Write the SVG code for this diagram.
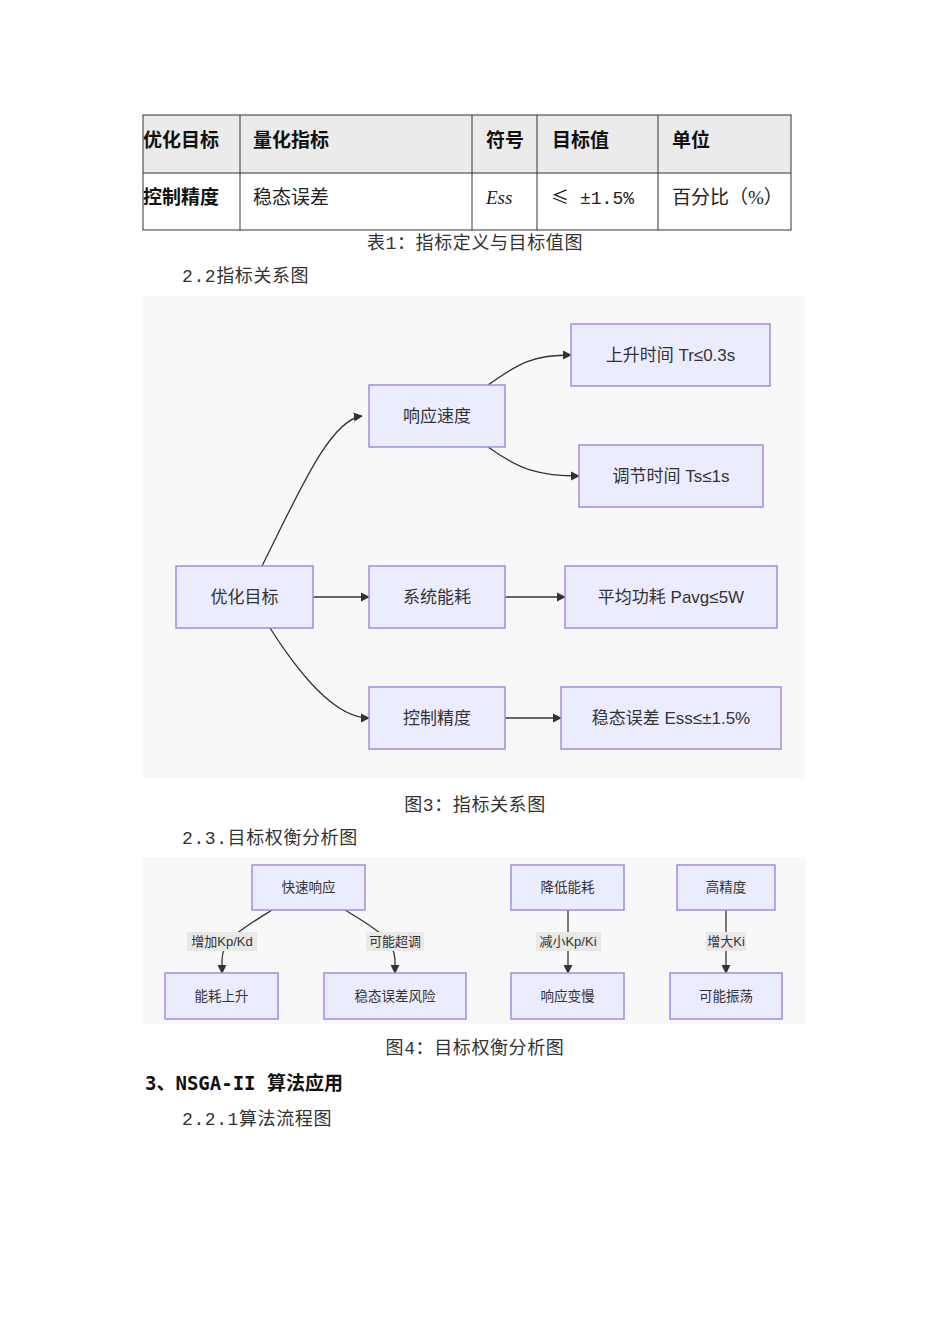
<svg xmlns="http://www.w3.org/2000/svg" width="950" height="1344" viewBox="0 0 950 1344">
<style>
.cap{font-family:"Liberation Mono","Noto Sans CJK SC",monospace;font-size:18px;fill:#333;letter-spacing:0.6px}
.th{font-family:"Liberation Sans","Noto Sans CJK SC",sans-serif;font-size:19px;font-weight:bold;fill:#111}
.td{font-family:"Liberation Serif","Noto Sans CJK SC",serif;font-size:19px;fill:#222}
.mono{font-family:"Liberation Mono","Noto Sans CJK SC",monospace;font-size:18px;fill:#222}
.cjk{font-family:"Noto Sans CJK SC",sans-serif;font-size:18px}
.n rect{fill:#ECECFF;stroke:#a58ae0;stroke-width:1.5}
.n text{font-family:"Liberation Sans","Noto Sans CJK SC",sans-serif;fill:#333;text-anchor:middle;dominant-baseline:central}
.big text{font-size:17px}
.sm text{font-size:13.5px}
.e path{fill:none;stroke:#333;stroke-width:1.3}
.lbl rect{fill:#e8e8e8}
.lbl text{font-family:"Liberation Sans","Noto Sans CJK SC",sans-serif;font-size:13px;fill:#333;text-anchor:middle;dominant-baseline:central}
</style>
<defs>
<marker id="ar" viewBox="0 0 10 10" refX="9" refY="5" markerWidth="7" markerHeight="7" orient="auto"><path d="M0,0 L10,5 L0,10 z" fill="#333"/></marker>
</defs>
<rect width="950" height="1344" fill="#fff"/>
<!-- Table -->
<g id="table">
<rect x="143" y="115" width="648" height="58" fill="#ebebeb"/>
<rect x="143" y="173" width="648" height="57" fill="#fff"/>
<g stroke="#333" stroke-width="1" fill="none">
<rect x="143" y="115" width="648" height="115"/>
<line x1="143" y1="173" x2="791" y2="173"/>
<line x1="240" y1="115" x2="240" y2="230"/>
<line x1="472" y1="115" x2="472" y2="230"/>
<line x1="537" y1="115" x2="537" y2="230"/>
<line x1="658" y1="115" x2="658" y2="230"/>
</g>
<text class="th" x="143" y="147">优化目标</text>
<text class="th" x="253" y="147">量化指标</text>
<text class="th" x="486" y="147">符号</text>
<text class="th" x="552" y="147">目标值</text>
<text class="th" x="672" y="147">单位</text>
<text class="th" x="143" y="204">控制精度</text>
<text class="td" x="253" y="204">稳态误差</text>
<text class="td" x="486" y="204" font-style="italic">Ess</text>
<text class="mono" x="551" y="204"><tspan class="cjk">≤</tspan><tspan x="580">±1.5%</tspan></text>
<text class="td" x="672" y="204">百分比（%）</text>
</g>
<text class="cap" x="475" y="249" text-anchor="middle">表1：指标定义与目标值图</text>
<text class="cap" x="182" y="282">2.2指标关系图</text>

<!-- Diagram 1 -->
<rect x="143" y="296" width="662" height="483" fill="#f8f8f8"/>
<g id="edges1" class="e">
<path d="M262,566 C300,490 330,420 362,416" marker-end="url(#ar)"/>
<path d="M488,385 C520,362 535,355 571,355" marker-end="url(#ar)"/>
<path d="M488,447 C520,470 540,476 579,476" marker-end="url(#ar)"/>
<path d="M313,597 L369,597" marker-end="url(#ar)"/>
<path d="M505,597 L565,597" marker-end="url(#ar)"/>
<path d="M270,628 C300,675 335,718 369,718" marker-end="url(#ar)"/>
<path d="M505,718 L561,718" marker-end="url(#ar)"/>
</g>
<g id="n_opt" class="n big"><rect x="176" y="566" width="137" height="62"/><text x="244.5" y="597">优化目标</text></g>
<g id="n_speed" class="n big"><rect x="369" y="385" width="136" height="62"/><text x="437" y="416">响应速度</text></g>
<g id="n_energy" class="n big"><rect x="369" y="566" width="136" height="62"/><text x="437" y="597">系统能耗</text></g>
<g id="n_prec" class="n big"><rect x="369" y="687" width="136" height="62"/><text x="437" y="718">控制精度</text></g>
<g id="n_tr" class="n big"><rect x="571" y="324" width="199" height="62"/><text x="670.5" y="355">上升时间 Tr≤0.3s</text></g>
<g id="n_ts" class="n big"><rect x="579" y="445" width="184" height="62"/><text x="671" y="476">调节时间 Ts≤1s</text></g>
<g id="n_pavg" class="n big"><rect x="565" y="566" width="212" height="62"/><text x="671" y="597">平均功耗 Pavg≤5W</text></g>
<g id="n_ess" class="n big"><rect x="561" y="687" width="220" height="62"/><text x="671" y="718">稳态误差 Ess≤±1.5%</text></g>

<text class="cap" x="475" y="811" text-anchor="middle">图3：指标关系图</text>
<text class="cap" x="182" y="844">2.3.目标权衡分析图</text>

<!-- Diagram 2 -->
<rect x="143" y="857" width="663" height="167" fill="#f8f8f8"/>
<g id="edges2" class="e">
<path d="M272,910 C240,930 222,940 222,960 L222,973" marker-end="url(#ar)"/>
<path d="M345,910 C375,928 395,940 395,960 L395,973" marker-end="url(#ar)"/>
<path d="M568,910 L568,973" marker-end="url(#ar)"/>
<path d="M726,910 L726,973" marker-end="url(#ar)"/>
</g>
<g id="labels2" class="lbl">
<rect x="187" y="932" width="70" height="19"/><text x="222" y="941.5">增加Kp/Kd</text>
<rect x="366" y="932" width="58" height="19"/><text x="395" y="941.5">可能超调</text>
<rect x="536" y="932" width="65" height="19"/><text x="568" y="941.5">减小Kp/Ki</text>
<rect x="706" y="932" width="40" height="19"/><text x="726" y="941.5">增大Ki</text>
</g>
<g id="n_fast" class="n sm"><rect x="252" y="865" width="113" height="45"/><text x="308.5" y="887.5">快速响应</text></g>
<g id="n_low" class="n sm"><rect x="511" y="865" width="113" height="45"/><text x="567.5" y="887.5">降低能耗</text></g>
<g id="n_high" class="n sm"><rect x="677" y="865" width="98" height="45"/><text x="726" y="887.5">高精度</text></g>
<g id="n_up" class="n sm"><rect x="165" y="973" width="113" height="46"/><text x="221.5" y="996">能耗上升</text></g>
<g id="n_risk" class="n sm"><rect x="324" y="973" width="142" height="46"/><text x="395" y="996">稳态误差风险</text></g>
<g id="n_slow" class="n sm"><rect x="511" y="973" width="113" height="46"/><text x="567.5" y="996">响应变慢</text></g>
<g id="n_osc" class="n sm"><rect x="670" y="973" width="112" height="46"/><text x="726" y="996">可能振荡</text></g>

<text class="cap" x="475" y="1054" text-anchor="middle">图4：目标权衡分析图</text>
<text x="145" y="1090" font-family="'DejaVu Sans Mono','Noto Sans CJK SC',monospace" font-size="19" font-weight="bold" fill="#111">3、NSGA-II 算法应用</text>
<text class="cap" x="182" y="1125">2.2.1算法流程图</text>
</svg>
